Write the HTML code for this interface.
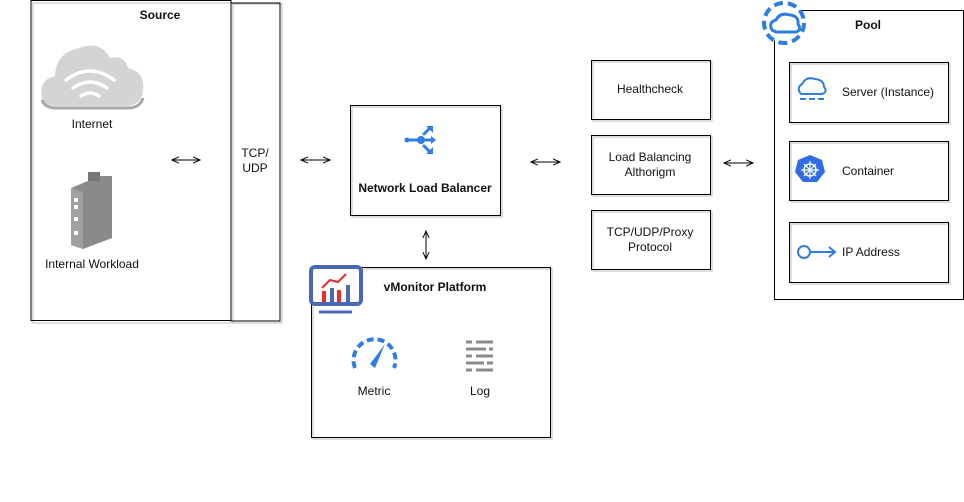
<!DOCTYPE html>
<html><head><style>
body{margin:0;background:#fff;width:964px;height:497px;overflow:hidden}
svg text{font-family:"Liberation Sans",Arial,sans-serif;font-size:12px;fill:#111}
</style></head><body>
<svg width="964" height="497" viewBox="0 0 964 497" xmlns="http://www.w3.org/2000/svg">
<defs>
<marker id="a" viewBox="0 0 10 10" refX="9" refY="5" markerWidth="8" markerHeight="8" orient="auto-start-reverse"><path d="M0,1 L9,5 L0,9" fill="none" stroke="#000" stroke-width="1.2"/></marker>
</defs>
<g fill="none">
<!-- shadows -->
<g stroke="#bbb" stroke-width="1">
<rect x="33" y="3" width="200" height="320"/>
<rect x="233" y="4" width="49" height="319"/>
<rect x="352" y="107" width="150" height="110"/>
<rect x="313" y="269" width="239" height="170"/>
<rect x="593" y="62" width="119" height="59"/>
<rect x="593" y="137" width="119" height="59"/>
<rect x="593" y="212" width="119" height="59"/>
<rect x="791" y="64" width="159" height="60"/>
<rect x="791" y="143" width="159" height="59"/>
<rect x="791" y="224" width="159" height="60"/>
</g>
<g stroke="#000" stroke-width="1">
<rect x="31" y="0.5" width="200" height="320"/>
<rect x="231" y="3" width="49" height="318"/>
<rect x="350.5" y="105.5" width="150" height="110"/>
<rect x="311.5" y="267.5" width="239" height="170"/>
<rect x="591.5" y="60.5" width="119" height="59"/>
<rect x="591.5" y="135.5" width="119" height="59"/>
<rect x="591.5" y="210.5" width="119" height="59"/>
<rect x="774.5" y="10.5" width="189" height="289"/>
<rect x="789.5" y="62.5" width="159" height="60"/>
<rect x="789.5" y="141.5" width="159" height="59"/>
<rect x="789.5" y="222.5" width="159" height="60"/>
</g>
<g stroke="#000" stroke-width="1" marker-start="url(#a)" marker-end="url(#a)">
<line x1="172" y1="160" x2="200" y2="160"/>
<line x1="301" y1="160" x2="330" y2="160"/>
<line x1="531" y1="162" x2="560" y2="162"/>
<line x1="724" y1="163" x2="753" y2="163"/>
<line x1="426" y1="231" x2="426" y2="259"/>
</g>
</g>
<!-- internet cloud -->
<path d="M42,98 Q38,80 55,76 Q56,52 80,48 Q100,40 110,58 Q125,55 128,68 Q145,72 143,90 Q142,104 128,106 L56,106 Q42,106 42,98Z" fill="#d4d4d4"/>
<path d="M42,100 Q45,108 56,108 L128,108 Q140,108 143,98" fill="none" stroke="#a8a8a8" stroke-width="3"/>
<g fill="none" stroke="#fff" stroke-width="3.5" stroke-linecap="round">
<path d="M66,80 Q90,62 114,80"/><path d="M73,88 Q90,76 107,88"/><path d="M81,96 Q90,90 99,96"/>
</g>
<!-- workload -->
<polygon points="71,188 100,176 112,176 112,238 83,249 71,245" fill="#8a8a8a"/>
<polygon points="71,188 83,192 83,249 71,245" fill="#a0a0a0"/>
<rect x="88" y="172" width="12" height="9" fill="#777"/>
<g fill="#fff"><rect x="74" y="198" width="4" height="4"/><rect x="74" y="205" width="4" height="4"/><rect x="74" y="217" width="4" height="4"/><rect x="74" y="231" width="4" height="4"/></g>
<!-- NLB icon -->
<g stroke="#2f7de1" stroke-width="3" fill="none" stroke-linecap="round">
<line x1="409" y1="140" x2="420" y2="140"/><line x1="420" y1="140" x2="432" y2="140"/>
<line x1="424" y1="134" x2="430" y2="128"/><line x1="424" y1="146" x2="430" y2="152"/>
</g>
<g fill="#2f7de1"><circle cx="407" cy="140" r="2.5"/><circle cx="421" cy="140" r="4"/>
<path d="M431,136 L436,140 L431,144Z"/><path d="M426,126 L433,126 L433,133Z"/><path d="M426,154 L433,154 L433,147Z"/></g>
<!-- vMonitor icon -->
<rect x="311" y="267" width="50" height="37" rx="4" fill="#fff" stroke="#4868b8" stroke-width="4"/>
<line x1="319" y1="312" x2="352" y2="312" stroke="#4868b8" stroke-width="3"/>
<g fill="#e82d2d"><rect x="322" y="291" width="4" height="11"/><rect x="337" y="290" width="4" height="12"/></g>
<g fill="#4868b8"><rect x="330" y="288" width="4" height="14"/><rect x="346" y="285" width="4" height="17"/></g>
<polyline points="322,288 330,280 338,282 346,274" fill="none" stroke="#e82d2d" stroke-width="2"/>
<!-- metric -->
<path d="M355,368 A21,21 0 1 1 394,368" fill="none" stroke="#2f7de1" stroke-width="4" stroke-dasharray="7,4"/>
<path d="M370,364 L385,344 L375,368Z" fill="#2f7de1"/>
<!-- log -->
<g stroke="#8a8a8a" stroke-width="3"><line x1="466" y1="342" x2="472" y2="342"/><line x1="476" y1="342" x2="493" y2="342"/>
<line x1="466" y1="349" x2="486" y2="349"/><line x1="489" y1="349" x2="493" y2="349"/>
<line x1="466" y1="356" x2="472" y2="356"/><line x1="476" y1="356" x2="493" y2="356"/>
<line x1="466" y1="363" x2="484" y2="363"/><line x1="487" y1="363" x2="493" y2="363"/>
<line x1="466" y1="370" x2="472" y2="370"/><line x1="476" y1="370" x2="493" y2="370"/></g>
<!-- pool icon -->
<circle cx="784" cy="23" r="20" fill="#fff" stroke="#2f7de1" stroke-width="4" stroke-dasharray="9,5"/>
<path d="M772,30 Q768,22 776,20 Q780,12 790,15 Q799,16 798,24 Q802,30 796,32 L776,32Z" fill="none" stroke="#2f7de1" stroke-width="3"/>
<!-- server icon -->
<path d="M801,94 Q796,88 802,84 Q806,76 815,79 Q824,80 824,87 Q828,92 822,94Z" fill="none" stroke="#2f7de1" stroke-width="2"/>
<line x1="800" y1="99" x2="825" y2="99" stroke="#2f7de1" stroke-width="2" stroke-dasharray="6,3"/>
<!-- container icon -->
<polygon points="810,155 822,160 825,172 817,182 803,182 795,172 798,160" fill="#326ce5"/>
<circle cx="810" cy="170" r="6" fill="none" stroke="#fff" stroke-width="1.5"/>
<g stroke="#fff" stroke-width="1.2"><line x1="810" y1="161" x2="810" y2="179"/><line x1="801" y1="170" x2="819" y2="170"/><line x1="804" y1="164" x2="816" y2="176"/><line x1="816" y1="164" x2="804" y2="176"/></g>
<!-- IP icon -->
<circle cx="804" cy="252" r="6" fill="#fff" stroke="#2f7de1" stroke-width="2"/>
<line x1="810" y1="252" x2="834" y2="252" stroke="#2f7de1" stroke-width="2"/>
<polyline points="829,247 835,252 829,257" fill="none" stroke="#2f7de1" stroke-width="2"/>
<!-- text -->
<text x="160" y="19" text-anchor="middle" font-weight="bold">Source</text>
<text x="92" y="128" text-anchor="middle">Internet</text>
<text x="92" y="268" text-anchor="middle">Internal Workload</text>
<text x="255" y="157" text-anchor="middle">TCP/</text>
<text x="255" y="172" text-anchor="middle">UDP</text>
<text x="425" y="192" text-anchor="middle" font-weight="bold">Network Load Balancer</text>
<text x="435" y="291" text-anchor="middle" font-weight="bold">vMonitor Platform</text>
<text x="374" y="395" text-anchor="middle">Metric</text>
<text x="480" y="395" text-anchor="middle">Log</text>
<text x="650" y="93" text-anchor="middle">Healthcheck</text>
<text x="650" y="161" text-anchor="middle">Load Balancing</text>
<text x="650" y="176" text-anchor="middle">Althorigm</text>
<text x="650" y="236" text-anchor="middle">TCP/UDP/Proxy</text>
<text x="650" y="251" text-anchor="middle">Protocol</text>
<text x="868" y="29" text-anchor="middle" font-weight="bold">Pool</text>
<text x="842" y="96">Server (Instance)</text>
<text x="842" y="175">Container</text>
<text x="842" y="256">IP Address</text>
</svg>
</body></html>
